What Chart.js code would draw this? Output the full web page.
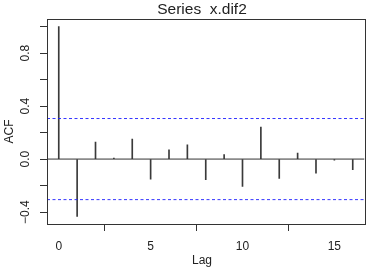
<!DOCTYPE html>
<html>
<head>
<meta charset="utf-8">
<script src="https://cdn.jsdelivr.net/npm/chart.js@4.4.1/dist/chart.umd.min.js"></script>
<style>
  html, body { margin: 0; padding: 0; background: #ffffff; }
  #wrap { width: 367px; height: 269px; }
</style>
</head>
<body>
<div id="wrap"><canvas id="c" width="367" height="269"></canvas></div>
<script>
// ---- data ----
const lags = [0, 1, 2, 3, 4, 5, 6, 7, 8, 9, 10, 11, 12, 13, 14, 15, 16];
const acfValues = [1.000, -0.433, 0.128, 0.008, 0.151, -0.151, 0.070, 0.108, -0.156, 0.033, -0.206, 0.241, -0.146, 0.045, -0.106, -0.008, -0.080];
const confLimit = 0.306;
const xTicks = [0, 5, 10, 15];
const yTicks = [-0.4, -0.2, 0.0, 0.2, 0.4, 0.6, 0.8, 1.0];
const yLabeledTicks = [-0.4, 0.0, 0.4, 0.8];
const xRange = [-0.64, 16.64];
const yRange = [-0.49, 1.057];
const titleText = 'Series  x.dif2';
const xTitle = 'Lag';
const yTitle = 'ACF';

const FONT = '"Liberation Sans", Arial, Helvetica, sans-serif';
const INK = '#222222';

const spikes = lags.map((l, i) => ({ x: l, y: acfValues[i] }));
const hline = v => [{ x: xRange[0], y: v }, { x: xRange[1], y: v }];

const decorPlugin = {
  id: 'decor',
  afterDraw(chart) {
    const { ctx, chartArea: a } = chart;
    ctx.save();
    // plot box
    ctx.strokeStyle = '#333333';
    ctx.lineWidth = 1;
    ctx.strokeRect(Math.round(a.left) + 0.5, Math.round(a.top) + 0.5,
                   Math.round(a.right) - Math.round(a.left), Math.round(a.bottom) - Math.round(a.top));
    // texts
    ctx.fillStyle = INK;
    ctx.textAlign = 'center';
    ctx.textBaseline = 'alphabetic';
    ctx.font = '15.5px ' + FONT;
    ctx.fillText(titleText, 202, 13.5);
    ctx.font = '12px ' + FONT;
    ctx.fillText(xTitle, 202, 264);
    ctx.translate(13, 131.5);
    ctx.rotate(-Math.PI / 2);
    ctx.fillText(yTitle, 0, 0);
    ctx.restore();
  }
};

new Chart(document.getElementById('c'), {
  type: 'bar',
  data: {
    datasets: [
      {
        type: 'bar',
        data: spikes,
        backgroundColor: '#3a3a3a',
        borderWidth: 0,
        barThickness: 1,
        order: 3
      },
      {
        type: 'line',
        data: hline(0),
        borderColor: '#333333',
        borderWidth: 1,
        pointRadius: 0,
        order: 2
      },
      {
        type: 'line',
        data: hline(confLimit),
        borderColor: 'rgba(30,30,255,0.9)',
        borderWidth: 1,
        borderDash: [3, 2.5],
        pointRadius: 0,
        order: 1
      },
      {
        type: 'line',
        data: hline(-confLimit),
        borderColor: 'rgba(30,30,255,0.9)',
        borderWidth: 1,
        borderDash: [3, 2.5],
        pointRadius: 0,
        order: 1
      }
    ]
  },
  options: {
    responsive: false,
    animation: false,
    devicePixelRatio: 1,
    layout: { padding: { top: 19, right: 2.5, left: 0, bottom: 0 } },
    plugins: { legend: { display: false }, title: { display: false }, tooltip: { enabled: false } },
    scales: {
      x: {
        type: 'linear',
        min: xRange[0],
        max: xRange[1],
        offset: false,
        afterBuildTicks: s => { s.ticks = xTicks.map(v => ({ value: v })); },
        afterFit: s => { s.height = 45; },
        grid: { drawOnChartArea: false, drawTicks: true, tickLength: 7, color: '#333333', tickWidth: 1 },
        border: { display: false },
        ticks: {
          autoSkip: false,
          maxRotation: 0,
          minRotation: 0,
          padding: 8,
          color: INK,
          font: { family: FONT, size: 12 },
          callback: v => String(v)
        }
      },
      y: {
        type: 'linear',
        min: yRange[0],
        max: yRange[1],
        afterBuildTicks: s => { s.ticks = yTicks.map(v => ({ value: v })); },
        afterFit: s => { s.width = 47; },
        grid: { drawOnChartArea: false, drawTicks: true, tickLength: 7, color: '#333333', tickWidth: 1 },
        border: { display: false },
        ticks: {
          autoSkip: false,
          minRotation: 90,
          maxRotation: 90,
          crossAlign: 'center',
          padding: 2,
          color: INK,
          font: { family: FONT, size: 12 },
          callback: v => {
            const hit = yLabeledTicks.some(t => Math.abs(t - v) < 1e-6);
            if (!hit) return '';
            const s = Math.abs(v).toFixed(1);
            return v < -1e-9 ? '\u2212' + s : s;
          }
        }
      }
    }
  },
  plugins: [decorPlugin]
});
</script>
</body>
</html>
